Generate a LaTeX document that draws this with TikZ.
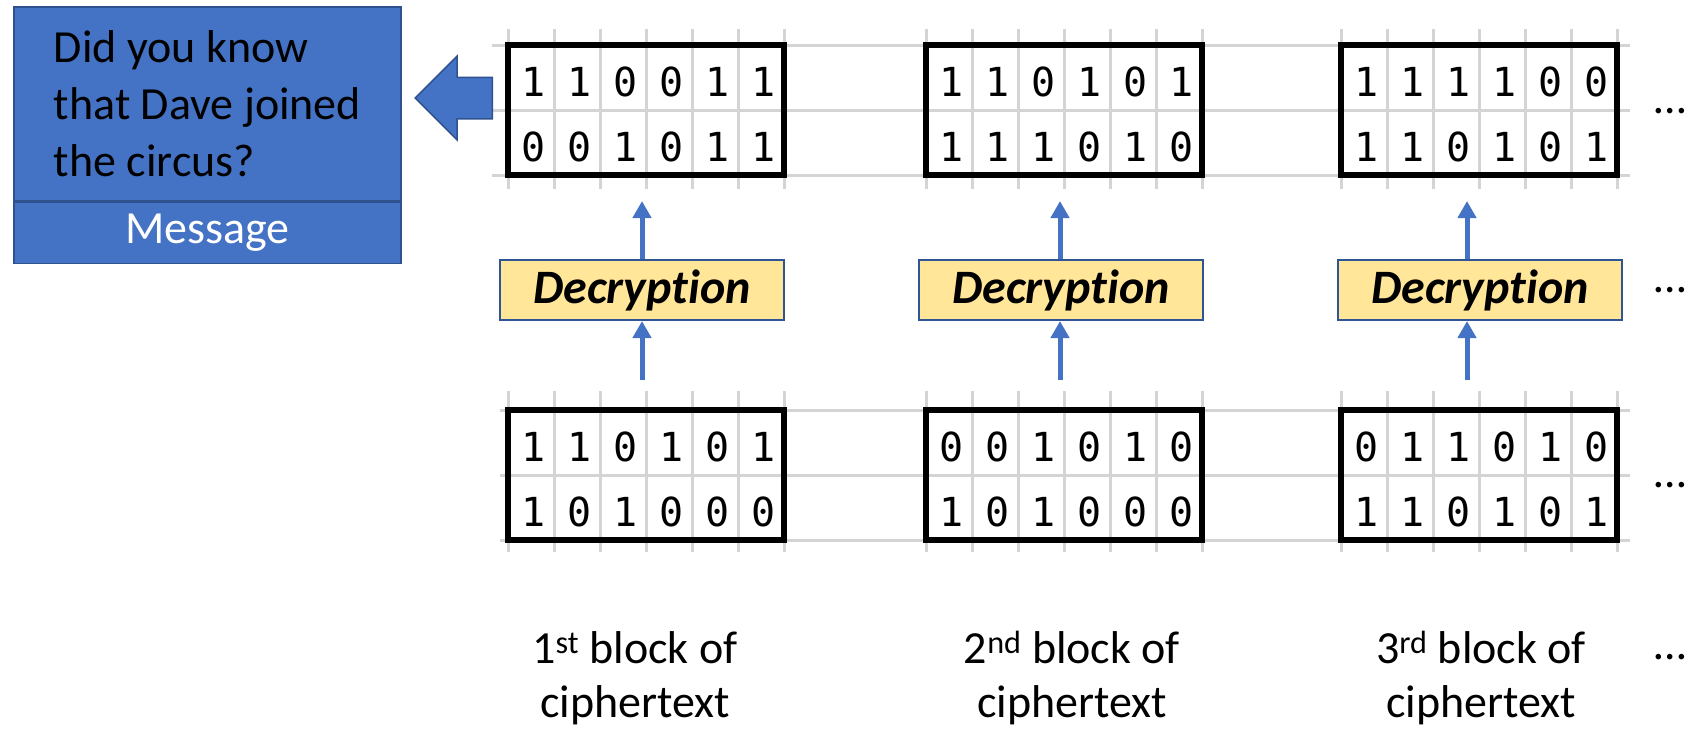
\documentclass[tikz,border=0pt]{standalone}
\usepackage{fontspec}
\setmainfont{Carlito}[Ligatures=NoCommon]
\newfontfamily\bitfont{DejaVu Sans Mono}
\usetikzlibrary{arrows.meta,positioning,shapes.arrows}

\definecolor{msgblue}{HTML}{4472C4}
\definecolor{msgedge}{HTML}{2F528F}
\definecolor{decfill}{HTML}{FFE699}
\definecolor{decedge}{HTML}{2F5597}
\definecolor{gridgray}{HTML}{D4D4D4}

\tikzset{
  gridline/.style={gridgray, line width=3pt},
  bitblock/.style={draw=black, line width=6pt, minimum width=276pt, minimum height=130pt, inner sep=0pt},
  bit/.style={font=\bitfont\fontsize{40}{40}\selectfont, anchor=base, inner sep=0pt},
  decbox/.style={draw=decedge, line width=2pt, fill=decfill, minimum width=284pt, minimum height=60pt, inner sep=0pt, font=\fontsize{48}{48}\selectfont\bfseries\itshape},
  flow/.style={draw=msgblue, line width=5pt, -{Triangle[width=18pt,length=17pt]}},
  msgbox/.style={draw=msgedge, line width=1.5pt, fill=msgblue, minimum width=387pt, inner sep=0pt},
  bigarrow/.style={single arrow, shape border rotate=180, draw=msgedge, line width=1.5pt, fill=msgblue, minimum height=77pt, single arrow head extend=21pt, inner xsep=0pt, inner ysep=20pt},
  caption/.style={font=\fontsize{46}{54}\selectfont, align=center, anchor=base, inner sep=0pt},
  more/.style={font=\fontsize{46}{46}\selectfont, anchor=base, inner sep=0pt}
}

\begin{document}
\begin{tikzpicture}[x=1pt, y=-1pt]
  \useasboundingbox (0,0) rectangle (1704,731);

  % Sheet grid behind the blocks
  \foreach \y in {45,110,175} \draw[gridline] (492,\y) -- (1630,\y);
  \foreach \y in {410,475,540} \draw[gridline] (500,\y) -- (1630,\y);
  \foreach \x in {508,926,1341} {
    \foreach \k in {0,...,6} {
      \draw[gridline] (\x+46*\k,29) -- (\x+46*\k,189);
      \draw[gridline] (\x+46*\k,391) -- (\x+46*\k,552);
    }
  }

  % Blocks, decryption steps and captions
  \foreach \i/\x/\dx/\ax/\lx/\ord in {1/646/642/642/635/st, 2/1064/1061/1060/1072/nd, 3/1479/1480/1467/1481/rd} {
    \node[bitblock] (t\i) at (\x,110) {};
    \node[bitblock] (b\i) at (\x,475) {};
    \node[decbox] (d\i) at (\dx,290) {Decryption};
    \coordinate (a\i) at (\ax,290);
    \draw[flow, shorten <=27pt] (a\i |- b\i.north) -- (a\i |- d\i.south);
    \draw[flow, shorten >=23pt] (a\i |- d\i.north) -- (a\i |- t\i.south);
    \node[caption] (c\i) at (\lx,717) {\i\textsuperscript{\ord} block of\\ciphertext};
  }

  % Bits in the cells
  \foreach \n/\x/\y/\bits in {
      t1/508/96/{1,1,0,0,1,1}, t1/508/161/{0,0,1,0,1,1},
      b1/508/461/{1,1,0,1,0,1}, b1/508/526/{1,0,1,0,0,0},
      t2/926/96/{1,1,0,1,0,1}, t2/926/161/{1,1,1,0,1,0},
      b2/926/461/{0,0,1,0,1,0}, b2/926/526/{1,0,1,0,0,0},
      t3/1341/96/{1,1,1,1,0,0}, t3/1341/161/{1,1,0,1,0,1},
      b3/1341/461/{0,1,1,0,1,0}, b3/1341/526/{1,1,0,1,0,1}} {
    \foreach \c [count=\k] in \bits
      \node[bit] (\n-\y-\k) at (\x+46*\k-20,\y) {\c};
  }

  % More blocks follow
  \foreach \y [count=\k] in {113,292,487,659}
    \node[more] (m\k) at (1670,\y) {…};

  % Recovered message
  \node[msgbox, minimum height=194pt, align=left, font=\fontsize{46}{57}\selectfont] (msg) at (207.5,104) {Did you know\\that Dave joined\\the circus?};
  \node[msgbox, minimum height=61pt, below=0pt of msg, text=white, font=\fontsize{46}{46}\selectfont] (msgname) {Message};
  \node[bigarrow, anchor=tail] (back) at ([xshift=-12pt,yshift=12pt]t1.west) {};
\end{tikzpicture}
\end{document}
